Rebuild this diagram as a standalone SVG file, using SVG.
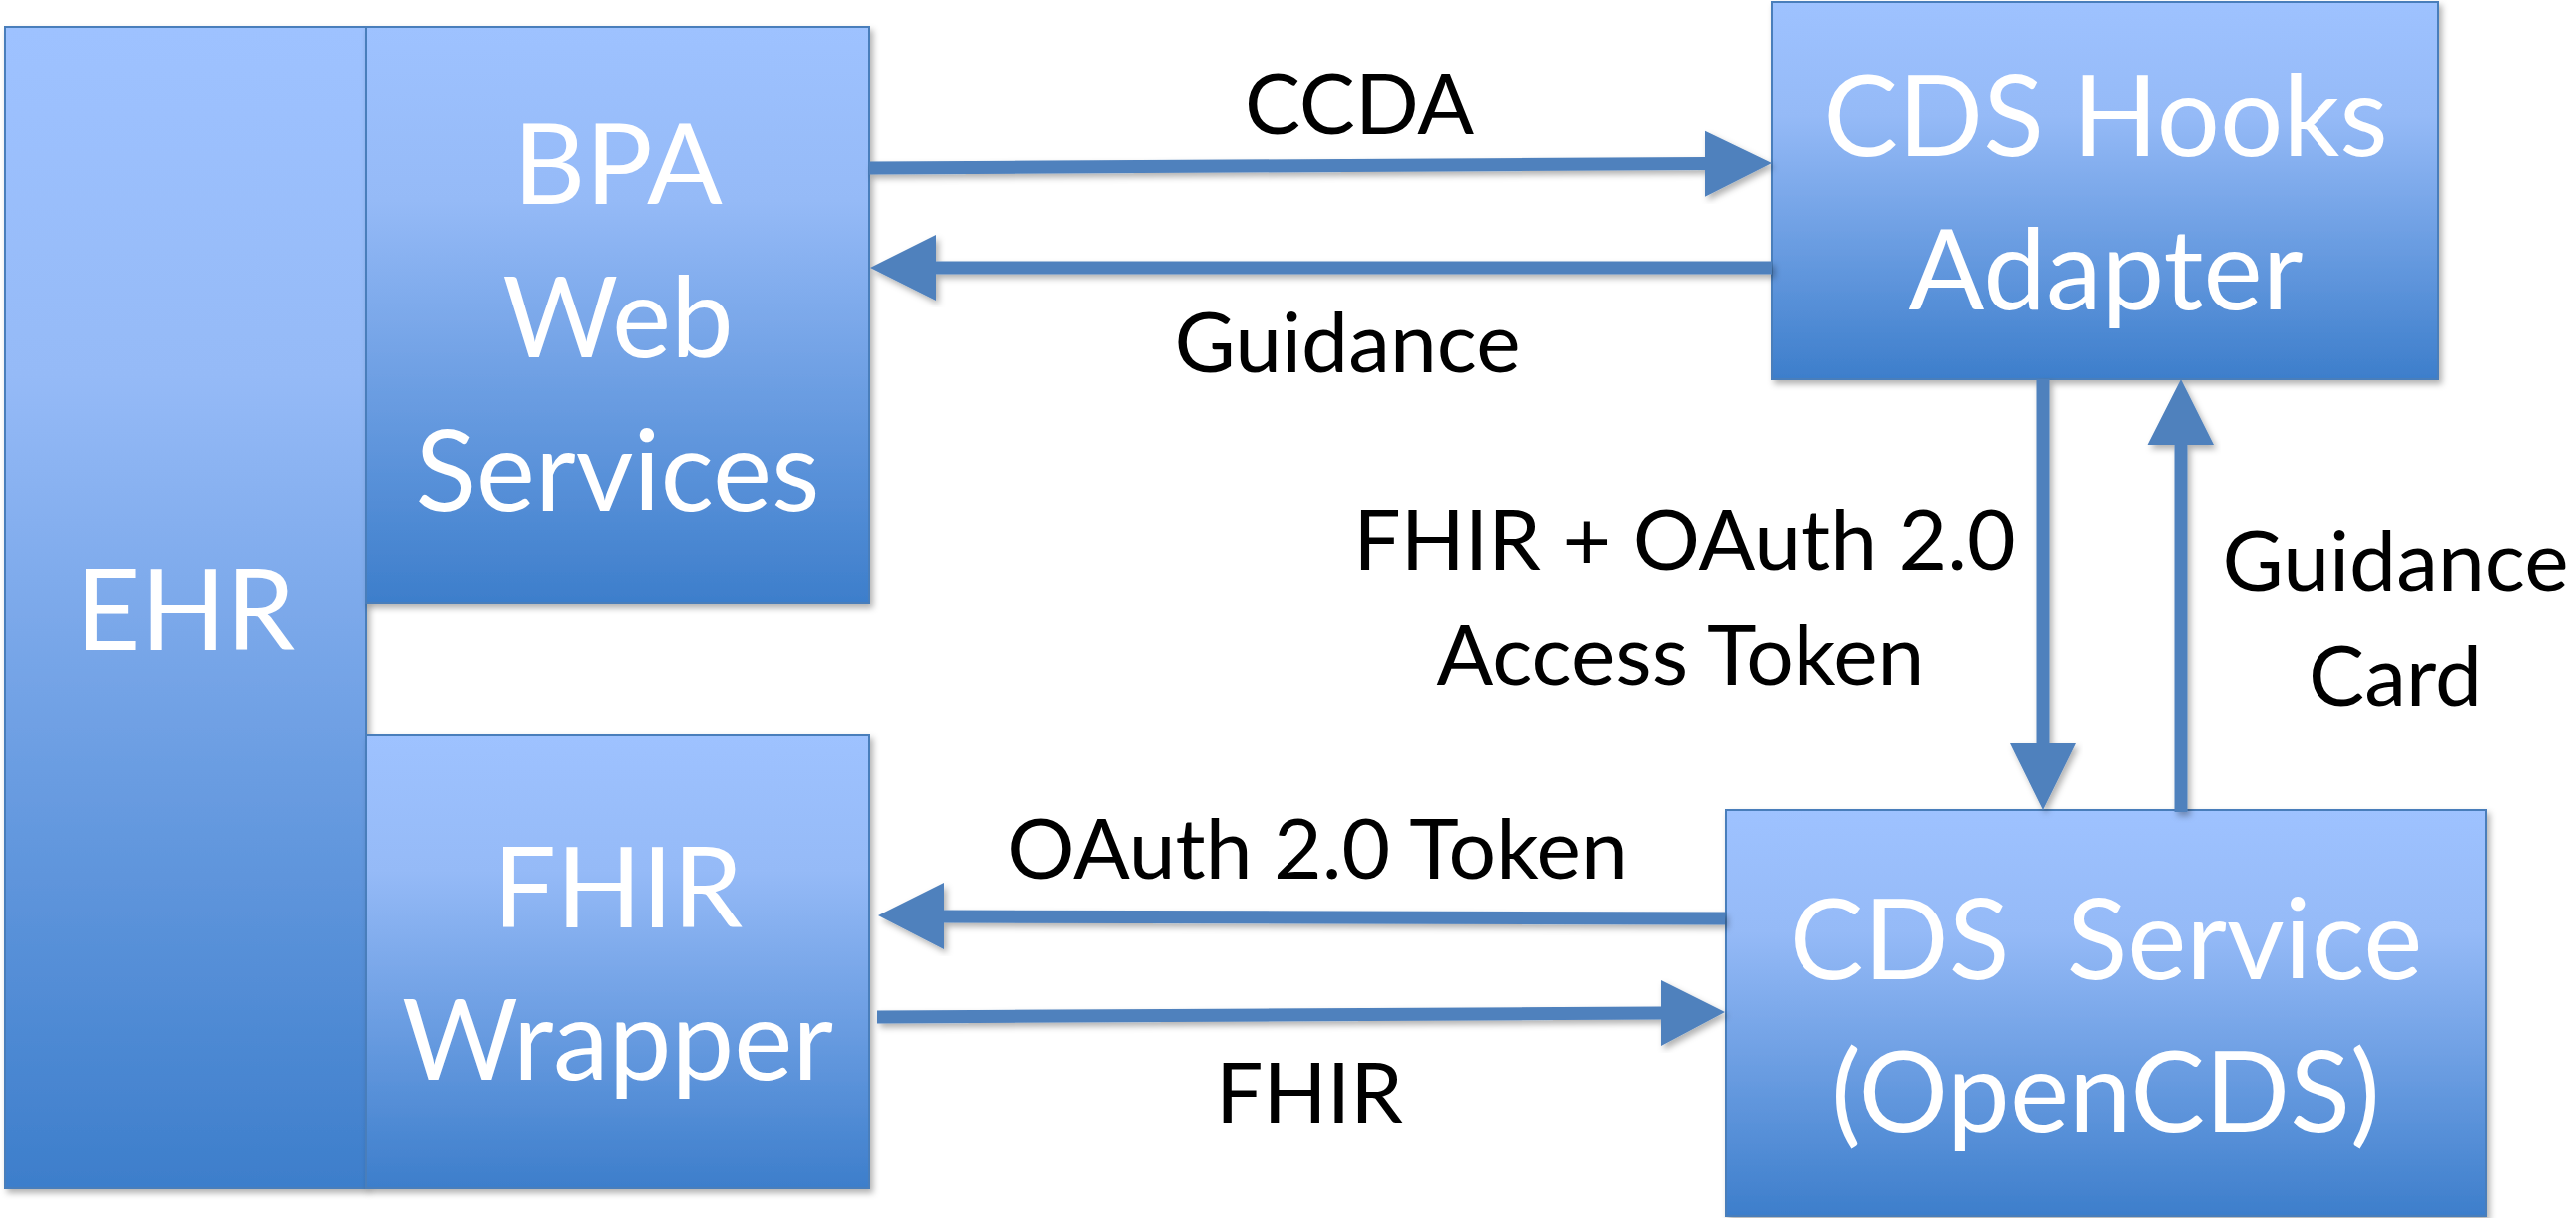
<svg xmlns="http://www.w3.org/2000/svg" width="2581" height="1220" viewBox="0 0 2581 1220">
  <style>
    .box { fill: url(#boxGrad); stroke: #4a7ebb; stroke-width: 2; filter: url(#shadow); }
    .ntext { font-family: Lato, "Open Sans", "Liberation Sans", sans-serif; font-size: 112px; fill: #ffffff; text-anchor: middle; }
    .ltext { font-family: Lato, "Open Sans", "Liberation Sans", sans-serif; font-size: 84px; fill: #000000; text-anchor: middle; }
    .arrow { fill: #4f81bd; filter: url(#shadow); }
  </style>
  <defs>
    <linearGradient id="boxGrad" x1="0" y1="0" x2="0" y2="1">
      <stop offset="0" stop-color="#9ec2ff"/>
      <stop offset="0.3" stop-color="#95baf7"/>
      <stop offset="1" stop-color="#3d7ecb"/>
    </linearGradient>
    <filter id="shadow" x="-5%" y="-5%" width="115%" height="115%">
      <feDropShadow dx="3" dy="4" stdDeviation="3" flood-color="#000000" flood-opacity="0.3"/>
    </filter>
  </defs>

  <g id="ehr">
    <rect class="box" x="5" y="27" width="362" height="1163"/>
    <text class="ntext" x="186" y="651">EHR</text>
  </g>

  <g id="bpa">
    <rect class="box" x="367" y="27" width="504" height="577"/>
    <text class="ntext" x="619" y="204">BPA</text>
    <text class="ntext" x="619" y="358">Web</text>
    <text class="ntext" x="619" y="512">Services</text>
  </g>

  <g id="fhir-wrapper">
    <rect class="box" x="367" y="736" width="504" height="454"/>
    <text class="ntext" x="619" y="929">FHIR</text>
    <text class="ntext" x="619" y="1082">Wrapper</text>
  </g>

  <g id="cds-hooks-adapter">
    <rect class="box" x="1775" y="2" width="668" height="378"/>
    <text class="ntext" x="2110" y="156">CDS Hooks</text>
    <text class="ntext" x="2110" y="310">Adapter</text>
  </g>

  <g id="cds-service">
    <rect class="box" x="1729" y="811" width="762" height="407"/>
    <text class="ntext" x="2110" y="981" xml:space="preserve">CDS  Service</text>
    <text class="ntext" x="2110" y="1134">(OpenCDS)</text>
  </g>

  <g id="connectors">
    <polygon class="arrow" points="871,161.5 1708,157 1708,130.7 1775,163 1708,196.7 1708,170 871,174.5"/>
    <polygon class="arrow" points="1775,261.5 938,261.5 938,235 872,268 938,301 938,274.5 1775,274.5"/>
    <polygon class="arrow" points="2040.5,380 2040.5,744 2014,744 2047,811 2080,744 2053.5,744 2053.5,380"/>
    <polygon class="arrow" points="2178.5,813 2178.5,446 2151.5,446 2185,380 2218,446 2191.5,446 2191.5,813"/>
    <polygon class="arrow" points="1728,913.5 946,911.5 946,884 880,917 946,951 946,924.5 1728,926.5"/>
    <polygon class="arrow" points="879,1012.5 1664,1008.5 1664,982 1728,1014 1664,1048 1664,1021.5 879,1025.5"/>
    <text class="ltext" x="1362" y="134">CCDA</text>
    <text class="ltext" x="1350" y="373">Guidance</text>
    <text class="ltext" x="1688" y="571">FHIR + OAuth 2.0</text>
    <text class="ltext" x="1684" y="686">Access Token</text>
    <text class="ltext" x="2400" y="592">Guidance</text>
    <text class="ltext" x="2400" y="707">Card</text>
    <text class="ltext" x="1320" y="880">OAuth 2.0 Token</text>
    <text class="ltext" x="1312" y="1125">FHIR</text>
  </g>
</svg>
